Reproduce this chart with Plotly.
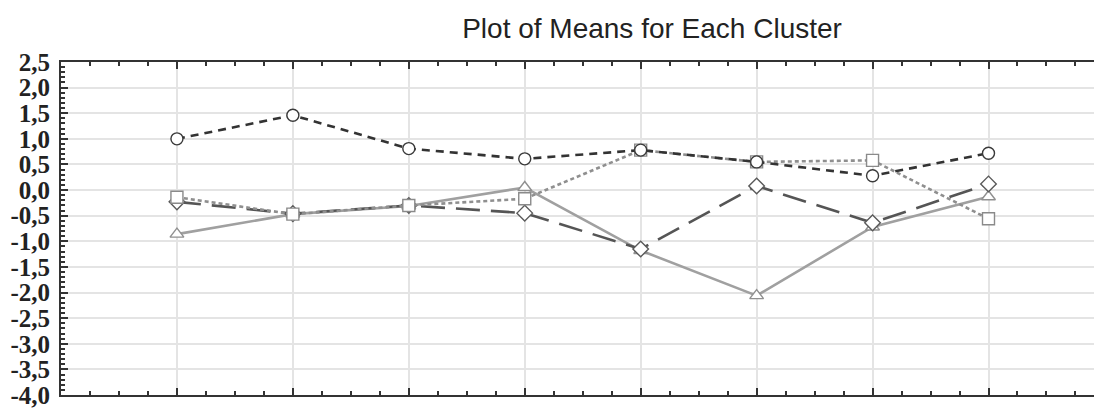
import plotly.graph_objects as go

x_pos = [1, 2, 3, 4, 5, 6, 7, 8]
cluster1 = [1.00, 1.46, 0.81, 0.61, 0.78, 0.55, 0.28, 0.72]     # circles
cluster2 = [-0.14, -0.47, -0.30, -0.17, 0.78, 0.55, 0.58, -0.56]  # squares
cluster3 = [-0.23, -0.46, -0.30, -0.45, -1.15, 0.08, -0.64, 0.12]  # diamonds
cluster4 = [-0.86, -0.47, -0.31, 0.05, -1.18, -2.06, -0.72, -0.13]  # triangles

y_ticks = [2.5, 2.0, 1.5, 1.0, 0.5, 0.0, -0.5, -1.0, -1.5, -2.0, -2.5, -3.0, -3.5, -4.0]
y_labels = ["2,5", "2,0", "1,5", "1,0", "0,5", "0,0", "-0,5", "-1,0", "-1,5",
            "-2,0", "-2,5", "-3,0", "-3,5", "-4,0"]

fig = go.Figure()

series = [
    (cluster1, "circle", "#333333", "#3a3a3a", "8px,6px", "Cluster 1"),
    (cluster2, "square", "#8f8f8f", "#8a8a8a", "4px,3px", "Cluster 2"),
    (cluster3, "diamond", "#555555", "#5a5a5a", "24px,11px", "Cluster 3"),
    (cluster4, "triangle-up", "#a0a0a0", "#909090", "solid", "Cluster 4"),
]
for vals, sym, lc, mc, dash, name in [series[3], series[2], series[1], series[0]]:
    fig.add_trace(go.Scatter(
        x=x_pos, y=vals, mode="lines+markers", name=name,
        line=dict(color=lc, width=2.6, dash=dash),
        marker=dict(symbol=sym, size=12,
                    color="white", line=dict(color=mc, width=1.4)),
        showlegend=False,
    ))

fig.update_layout(
    width=1094, height=409,
    margin=dict(l=61, r=0, t=62, b=7),
    paper_bgcolor="white", plot_bgcolor="white",
    title=dict(text="Plot of Means for Each Cluster", xref="container", x=0.596,
               xanchor="center", yref="container", y=0.93, yanchor="middle",
               font=dict(family="Liberation Sans", size=28, color="#222222")),
)
fig.update_xaxes(
    range=[0, 8.91], tickmode="array", tickvals=[0, 1, 2, 3, 4, 5, 6, 7, 8],
    showticklabels=False, ticks="inside", ticklen=7, tickwidth=1.5, tickcolor="#333",
    showline=True, linecolor="#333", linewidth=2, mirror="ticks",
    showgrid=True, gridcolor="#e4e4e4", gridwidth=1.5, zeroline=False,
    minor=dict(dtick=0.25, tick0=0, ticks="inside", ticklen=4, tickcolor="#333", showgrid=False),
)
fig.update_yaxes(
    range=[-4.0, 2.5], tickmode="array", tickvals=y_ticks, ticktext=y_labels,
    ticks="inside", ticklen=7, tickwidth=1.5, tickcolor="#333",
    showline=True, linecolor="#333", linewidth=2,
    showgrid=True, gridcolor="#e4e4e4", gridwidth=1.5, zeroline=False,
    tickfont=dict(family="Liberation Serif", size=25, color="#222", weight="bold"),
    ticklabelstandoff=4, ticklabeloverflow="allow",
    minor=dict(dtick=0.1, tick0=0, ticks="inside", ticklen=4, tickcolor="#333", showgrid=False),
)

fig.write_html("out.html")
